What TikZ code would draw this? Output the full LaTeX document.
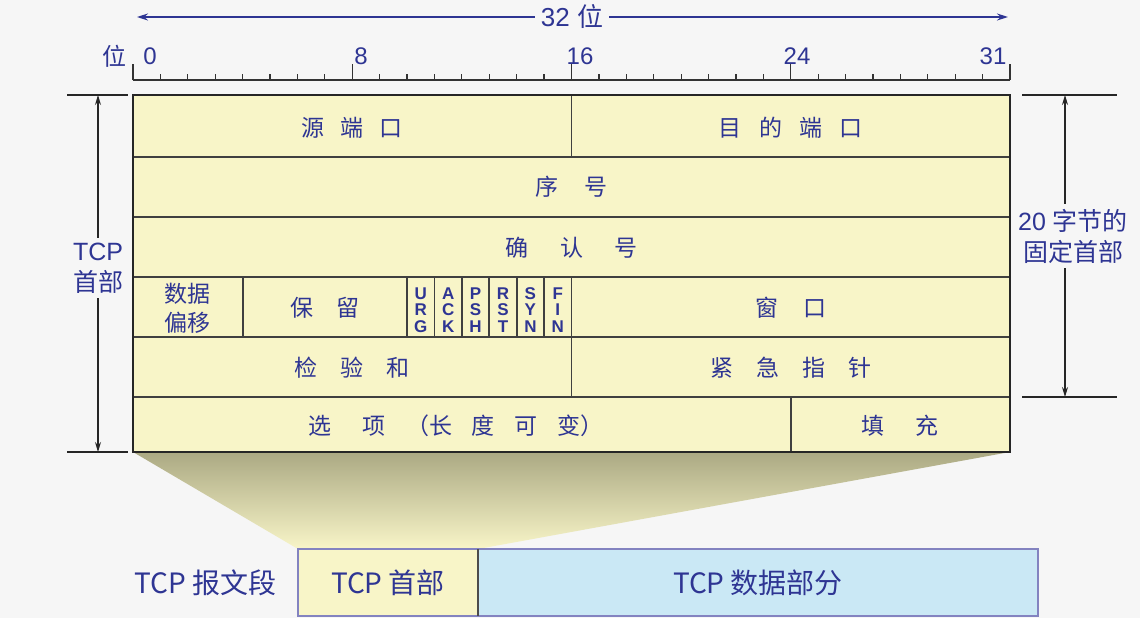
\documentclass[tikz,border=0pt]{standalone}
\usepackage{fontspec}
\setmainfont{Liberation Sans}
\newfontfamily\cjk{Noto Sans CJK SC}
\usetikzlibrary{arrows.meta,positioning}

\definecolor{pagegray}{HTML}{F6F6F6}
\definecolor{hdryellow}{HTML}{F8F5C8}
\definecolor{datablue}{HTML}{CAE8F5}
\definecolor{labelblue}{HTML}{2E3593}
\definecolor{segframe}{HTML}{8383C0}
\definecolor{funnel}{HTML}{ABA983}

% x position of a bit boundary
\newcommand\bx[1]{133+27.406*(#1)}
% gap between spaced-out characters
\newcommand\cgap[1][1em]{\hspace{#1}}

\tikzset{
  cell/.style={text=labelblue, font=\cjk\fontsize{23}{29}\selectfont, align=center},
  flag/.style={text=labelblue, font=\bfseries\fontsize{17}{16.5}\selectfont, align=center, inner sep=0pt},
  ruler/.style={text=labelblue, font=\fontsize{24}{26}\selectfont, inner sep=0pt},
  dimtext/.style={text=labelblue, font=\fontsize{25}{31}\selectfont, align=center, inner sep=5pt},
  dimline/.style={black!85, line width=1.2pt, -{Stealth[length=10pt,width=6pt]}},
  gridline/.style={black!75, line width=1.8pt},
  segbox/.style={draw=segframe, line width=2pt, outer sep=0pt, minimum height=67pt,
    text=labelblue, font=\cjk\fontsize{28}{30}\selectfont},
}

\begin{document}
\begin{tikzpicture}[x=1pt, y=-1pt]
  \fill[pagegray] (0,0) rectangle (1140,618);
  \useasboundingbox (0,0) rectangle (1140,618);

  % word width
  \node[ruler, font=\fontsize{26}{28}\selectfont, inner sep=6pt] (wordlen) at (572,17) {32 {\cjk 位}};
  \coordinate (wl) at (137,17);
  \coordinate (wr) at (1008,17);
  \draw[labelblue, line width=1.5pt, -{Stealth[length=11pt,width=7pt]}] (wordlen) -- (wl);
  \draw[labelblue, line width=1.5pt, -{Stealth[length=11pt,width=7pt]}] (wordlen) -- (wr);

  % bit ruler
  \draw[black!80, line width=1.4pt] ({\bx{0}},80) -- ({\bx{32}},80);
  \foreach \b in {1,...,31}
    \draw[black!80, line width=1.2pt] ({\bx{\b}},80) -- ++(0,-6);
  \foreach \b in {0,8,16,24,32}
    \draw[black!80, line width=1.4pt] ({\bx{\b}},80) -- ++(0,-16);
  \node[ruler] (bitword) at (114,56) {\cjk 位};
  \node[ruler] (bit0) at (150,56) {0};
  \node[ruler] (bit8) at (361,56) {8};
  \node[ruler] (bit16) at (580,56) {16};
  \node[ruler] (bit24) at (797,56) {24};
  \node[ruler] (bit31) at (993,56) {31};

  % funnel down to the segment
  \coordinate (tbl-nw) at (133,95);
  \coordinate (tbl-se) at (1010,452);
  \coordinate (tbl-sw) at (133,452);
  \coordinate (seg-nw) at (298,549);
  \coordinate (seg-ne) at (478,549);
  \shade[top color=funnel, bottom color=hdryellow] (tbl-sw) -- (tbl-se) -- (seg-ne) -- (seg-nw) -- cycle;

  % header fields
  \fill[hdryellow] (tbl-nw) rectangle (tbl-se);
  \foreach \y in {157,217,277,337,397}
    \draw[gridline] ({\bx{0}},\y) -- ({\bx{32}},\y);
  \draw[gridline] ({\bx{16}},95) -- ({\bx{16}},157);
  \foreach \b in {4,10,11,...,16}
    \draw[gridline] ({\bx{\b}},277) -- ({\bx{\b}},337);
  \draw[gridline] ({\bx{16}},337) -- ({\bx{16}},397);
  \draw[gridline] ({\bx{24}},397) -- ({\bx{24}},452);
  \draw[black!85, line width=2.8pt] (tbl-nw) rectangle (tbl-se);

  \node[cell] (srcport) at ({\bx{8}},128) {源\cgap[0.7em]端\cgap[0.7em]口};
  \node[cell] (dstport) at ({\bx{24}},128) {目\cgap[0.75em]的\cgap[0.75em]端\cgap[0.75em]口};
  \node[cell] (seqnum) at ({\bx{16}},187) {序\cgap[1.1em]号};
  \node[cell] (acknum) at ({\bx{16}},248) {确\cgap[1.35em]认\cgap[1.35em]号};
  \node[cell] (offset) at ({\bx{2}},308) {数据\\偏移};
  \node[cell] (reserved) at ({\bx{7}},308) {保\cgap 留};
  \foreach \fa/\fb/\fc [count=\i from 10] in {U/R/G,A/C/K,P/S/H,R/S/T,S/Y/N,F/I/N}
    \node[flag] (flag\i) at ({\bx{\i+0.5}},310) {\fa\\\fb\\\fc};
  \node[cell] (window) at ({\bx{24}},308) {窗\cgap[1.1em]口};
  \node[cell] (checksum) at ({\bx{8}},368) {检\cgap 验\cgap 和};
  \node[cell] (urgptr) at ({\bx{24}},368) {紧\cgap 急\cgap 指\cgap 针};
  \node[cell] (options) at ({\bx{12}-6},426) {选\cgap[1.35em]项\cgap[0.9em]（长\cgap[0.85em]度\cgap[0.85em]可\cgap[0.85em]变）};
  \node[cell] (padding) at ({\bx{28}},426) {填\cgap[1.35em]充};

  % header length on the left
  \coordinate (hdr-top) at (98,95);
  \coordinate (hdr-bot) at (98,452);
  \draw[black!85, line width=1.2pt] (hdr-top) ++(-31,0) -- ++(61,0);
  \draw[black!85, line width=1.2pt] (hdr-bot) ++(-31,0) -- ++(61,0);
  \node[dimtext] (hdrlen) at (98,268) {TCP\\{\cjk 首部}};
  \draw[dimline] (hdrlen) -- (hdr-top);
  \draw[dimline] (hdrlen) -- (hdr-bot);

  % fixed part on the right
  \coordinate (fix-top) at (1065,95);
  \coordinate (fix-bot) at (1065,397);
  \draw[black!85, line width=1.2pt] (fix-top) ++(-43,0) -- ++(95,0);
  \draw[black!85, line width=1.2pt] (fix-bot) ++(-43,0) -- ++(95,0);
  \node[dimtext] (fixlen) at (1073,236) {20 {\cjk 字节的}\\{\cjk 固定首部}};
  \draw[dimline] (fixlen.north -| fix-top) -- (fix-top);
  \draw[dimline] (fixlen.south -| fix-top) -- (fix-bot);

  % segment
  \node[segbox, fill=hdryellow, minimum width=180pt, anchor=north west] (seghdr) at (seg-nw) {TCP 首部};
  \node[segbox, fill=datablue, minimum width=560pt, right=0pt of seghdr] (segdata) {TCP 数据部分};
  \draw[black!70, line width=1.4pt] (seghdr.north east) -- (seghdr.south east);
  \node[text=labelblue, font=\cjk\fontsize{28}{30}\selectfont, left=18pt of seghdr] (segment) {TCP 报文段};
\end{tikzpicture}
\end{document}
